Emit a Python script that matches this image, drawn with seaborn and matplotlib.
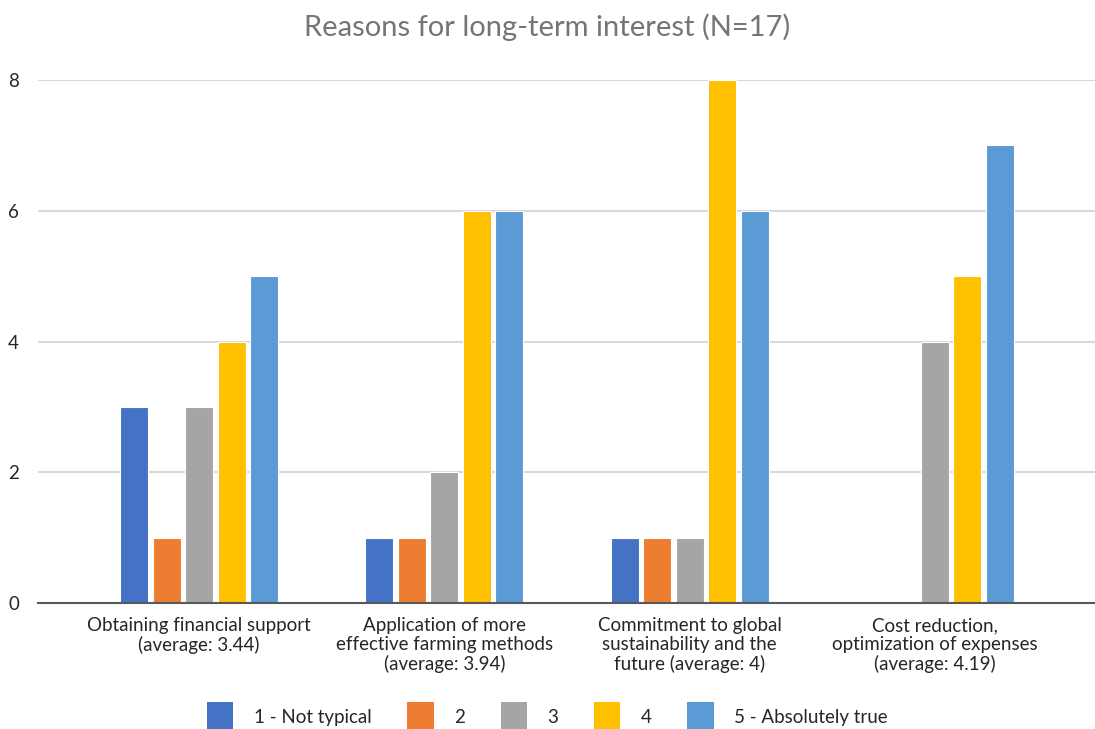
import pandas as pd
import matplotlib
matplotlib.use('Agg')
import matplotlib.pyplot as plt
import seaborn as sns
from matplotlib.patches import Patch

# data
categories = ['Obtaining financial support\n(average: 3.44)',
              'Application of more\neffective farming methods\n(average: 3.94)',
              'Commitment to global\nsustainability and the\nfuture (average: 4)',
              'Cost reduction,\noptimization of expenses\n(average: 4.19)']
series = ['1 - Not typical', '2', '3', '4', '5 - Absolutely true']
not_typical = [3, 1, 1, 0]
two = [1, 1, 1, 0]
three = [3, 2, 1, 4]
four = [4, 6, 8, 5]
absolutely_true = [5, 6, 6, 7]
colors = ['#4472C4', '#ED7D31', '#A5A5A5', '#FFC000', '#5B9BD5']

df = pd.DataFrame({'category': categories * 5,
                   'answer': [s for s in series for _ in categories],
                   'count': not_typical + two + three + four + absolutely_true})

sns.set_style('white')
plt.rcParams['font.family'] = ['Lato', 'DejaVu Sans']

fig = plt.figure(figsize=(10.95, 7.29), dpi=100)
ax = fig.add_axes([0.035, 0.1728, 0.965, 0.7174])

sns.barplot(data=df, x='category', y='count', hue='answer', hue_order=series,
            palette=colors, saturation=1, width=0.6625, gap=0.14,
            edgecolor='white', linewidth=0.8, legend=False, ax=ax)

ax.set_ylim(0, 8)
ax.set_xlim(-0.656, 3.653)
ax.set_yticks([0, 2, 4, 6, 8])
ax.yaxis.grid(True, color='#d9d9d9', linewidth=1.5)
ax.set_axisbelow(True)
for s in ['top', 'right', 'left']:
    ax.spines[s].set_visible(False)
ax.spines['bottom'].set_color('#595959')
ax.spines['bottom'].set_linewidth(1.5)
ax.set_xlabel('')
ax.set_ylabel('')
ax.tick_params(axis='both', length=0, labelsize=13.5, colors='#262626')
ax.tick_params(axis='y', pad=14)
ax.tick_params(axis='x', pad=10)
for lbl in ax.get_xticklabels():
    lbl.set_linespacing(1.15)

fig.text(0.5, 0.963, 'Reasons for long-term interest (N=17)', ha='center', va='center',
         fontsize=21, color='#757575')

handles = [Patch(facecolor=c, edgecolor='none') for c in colors]
fig.legend(handles, series, loc='center', bbox_to_anchor=(0.5, 0.017), ncol=5,
           frameon=False, fontsize=13.5, handlelength=1.4, handleheight=2.0,
           columnspacing=1.9, handletextpad=1.1)

fig.savefig('out.png', dpi=100)
